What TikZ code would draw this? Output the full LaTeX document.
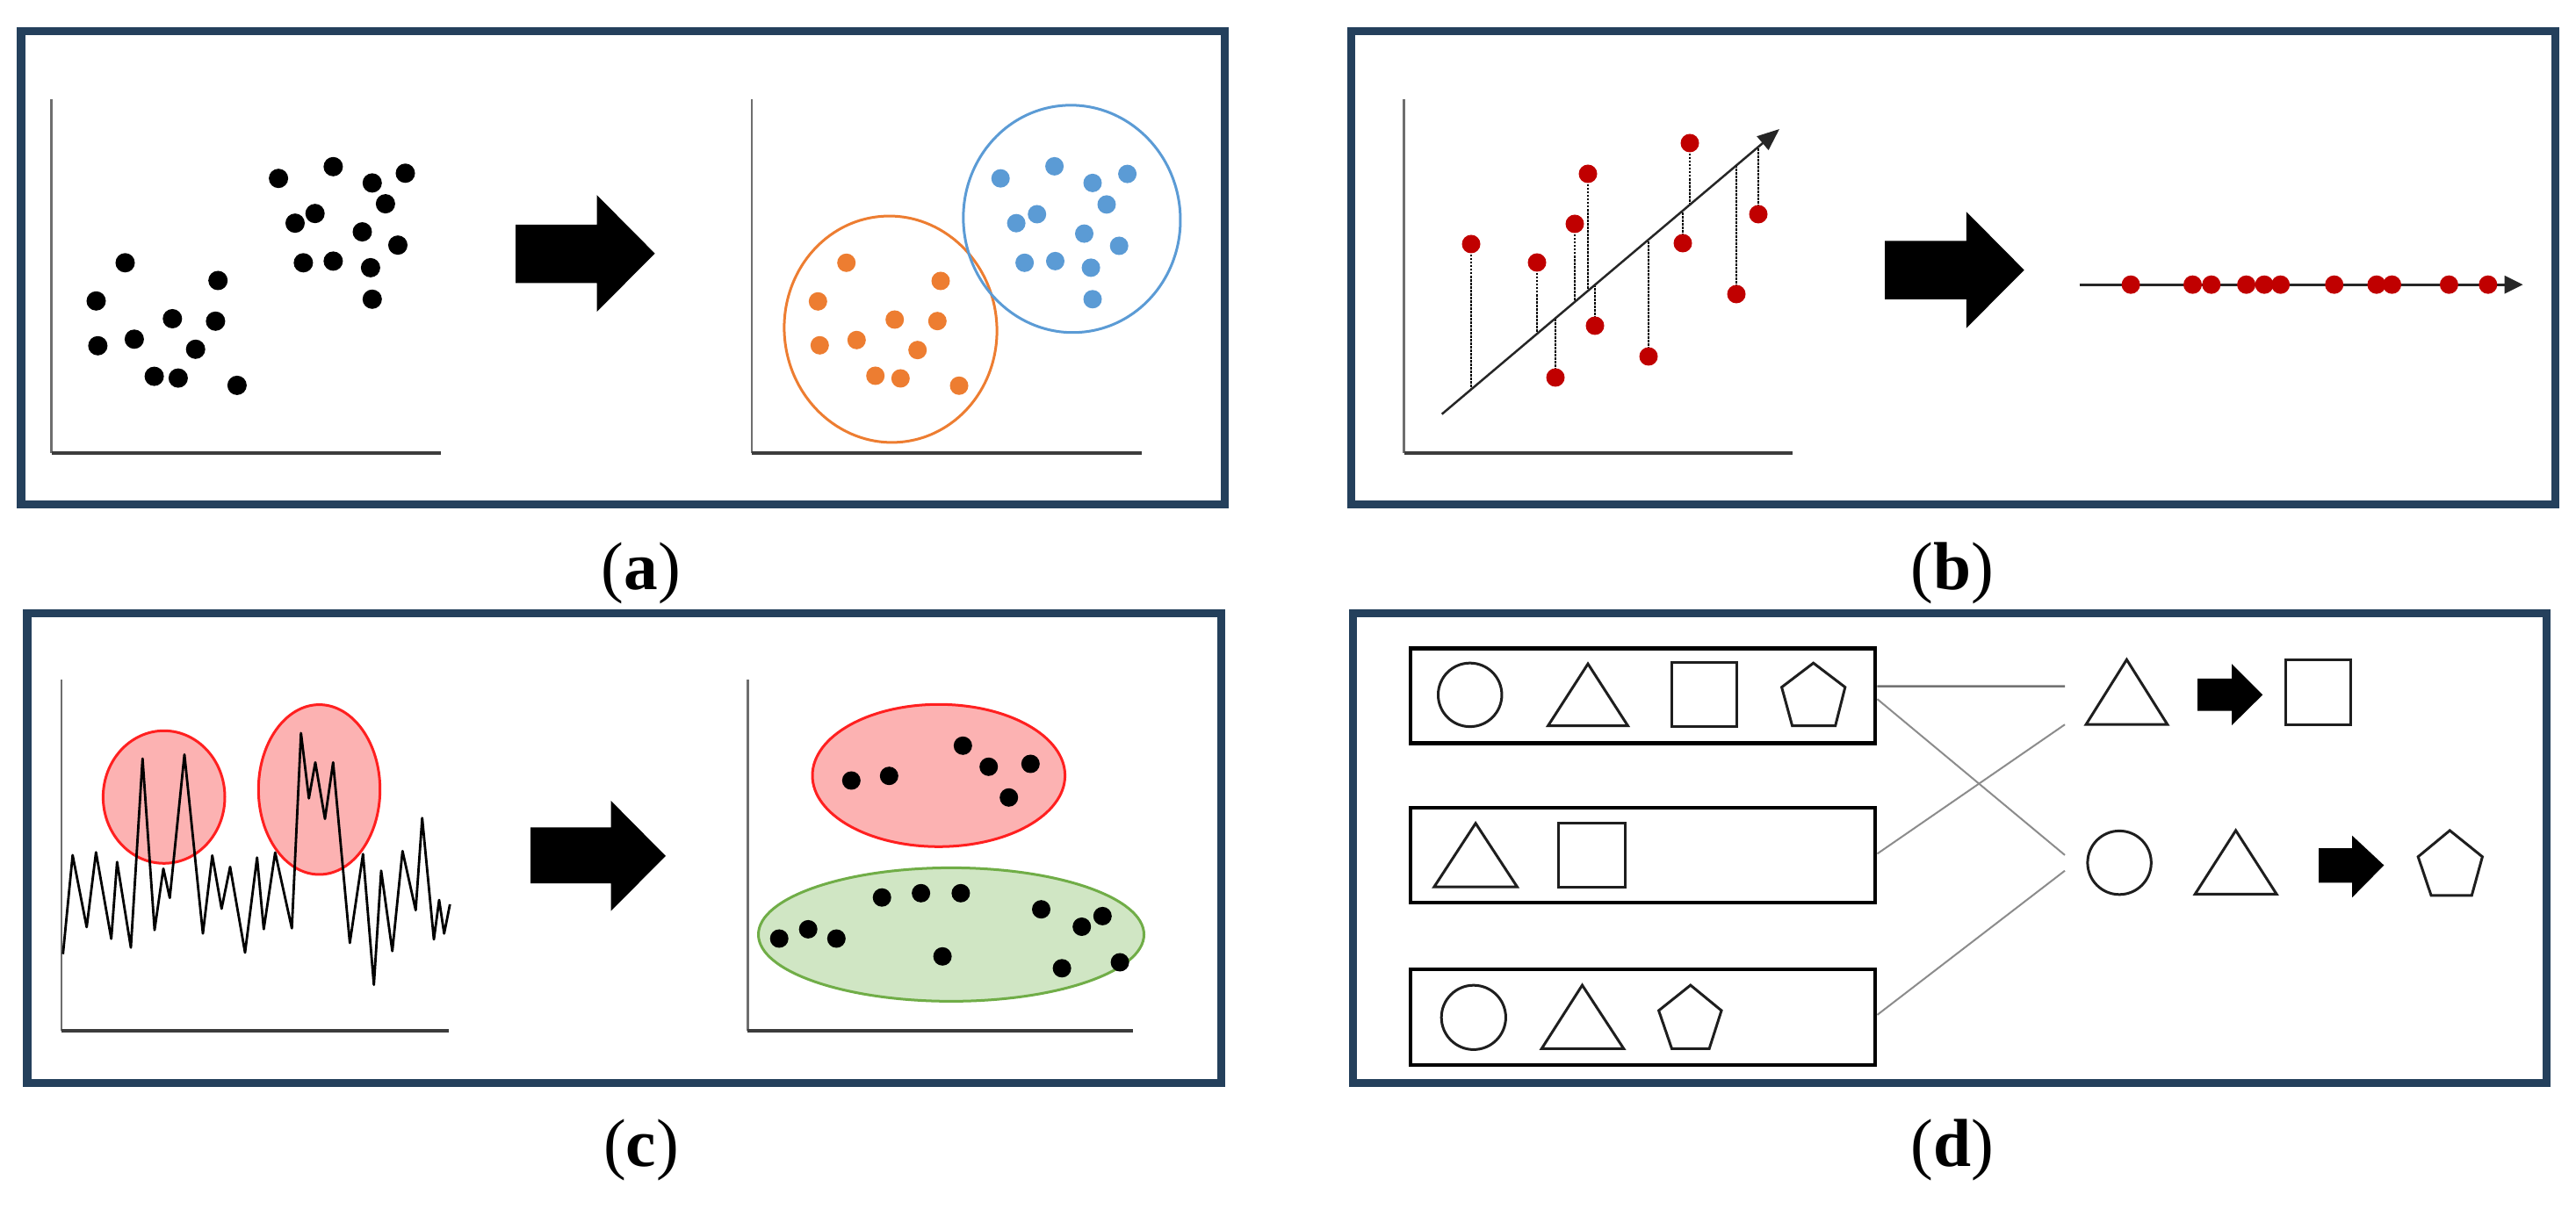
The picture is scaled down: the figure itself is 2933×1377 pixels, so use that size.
\documentclass[tikz,border=0pt]{standalone}
\usepackage{fontspec}
\setmainfont{Liberation Serif}
\usetikzlibrary{arrows.meta,calc}
\definecolor{frameblue}{RGB}{36,64,92}
\definecolor{dotred}{RGB}{192,0,0}
\definecolor{dotorange}{RGB}{237,125,49}
\definecolor{dotblue}{RGB}{91,155,213}
\definecolor{clred}{RGB}{255,32,32}
\definecolor{clredfill}{RGB}{252,178,178}
\definecolor{clgreen}{RGB}{112,173,71}
\definecolor{clgreenfill}{RGB}{208,230,196}
\definecolor{axgray}{RGB}{110,110,110}
\definecolor{axdark}{RGB}{60,60,60}
\definecolor{conngray}{RGB}{140,140,140}
\definecolor{shapeink}{RGB}{30,30,30}
\begin{document}
\begin{tikzpicture}[x=0.01cm,y=-0.01cm,
  panel/.style={draw=frameblue,line width=0.09cm},
  yaxis/.style={draw=axgray,line width=0.025cm},
  xaxis/.style={draw=axdark,line width=0.035cm},
  bigarrow/.style={fill=black},
  caption/.style={inner sep=0pt,font=\fontsize{22pt}{26pt}\selectfont},
  clusterline/.style={line width=0.03cm},
  dropline/.style={draw=black,line width=0.015cm,dash pattern=on 0.025cm off 0.015cm},
  regline/.style={draw=black!85,line width=0.025cm,-{Triangle[length=0.25cm,width=0.2cm]}},
  projline/.style={draw=black!85,line width=0.03cm,-{Triangle[length=0.21cm,width=0.2cm]}},
  signal/.style={draw=black,line width=0.028cm,line join=round},
  setbox/.style={draw=black,line width=0.045cm,rectangle,minimum width=5.29cm,inner sep=0pt},
  shapeline/.style={draw=shapeink,line width=0.03cm},
  conn/.style={draw=conngray,line width=0.02cm}
]
\useasboundingbox (0,0) rectangle (2933,1377);
\fill[white] (0,0) rectangle (2933,1377);

%================ (a) =================
\draw[panel] (24,36) rectangle (1394,575);
\draw[yaxis] (58.5,112.7) -- (58.5,516);
\draw[xaxis] (58.5,516) -- (502,516);
\foreach \p in {(317.1,203.2),(379.4,189.8),(423.8,208.4),(461.5,197.3),(438.9,232.1),
  (358.7,243.2),(336.0,254.2),(412.5,264.1),(453.0,279.2),(345.4,299.3),(379.4,297.4),
  (421.9,304.9),(423.8,340.8),(142.5,299.3),(248.2,319.5),(109.5,342.8),(196.3,363.0),
  (245.4,365.8),(111.4,393.8),(152.9,386.3),(222.7,397.8),(175.6,428.6),(202.9,430.6),
  (269.9,438.9)}
  \fill[black] \p circle[radius=0.11cm];
\fill[bigarrow] (587,255.8) -- (679.6,255.8) -- (679.6,222.2) -- (745.6,288.7)
  -- (679.6,355.1) -- (679.6,322.3) -- (587,322.3) -- cycle;
\draw[yaxis] (856,112.7) -- (856,516);
\draw[xaxis] (856,516) -- (1299.7,516);
\draw[dotorange,clusterline,rotate around={6:(1014,375)}] (1014,375) ellipse [x radius=121, y radius=129];
\draw[dotblue,clusterline,rotate around={6:(1220.4,249.3)}] (1220.4,249.3) ellipse [x radius=123.5, y radius=129.5];
\foreach \p in {(963.7,299.3),(1071,320),(931.3,343.3),(1018.7,364),(1067.3,365.7),
  (933.3,393.3),(975.3,387.3),(1044.7,398.7),(996.7,428),(1025.3,431),(1092,439.3)}
  \fill[dotorange] \p circle[radius=0.105cm];
\foreach \p in {(1139.2,203.2),(1200.6,189.4),(1244.0,208.4),(1283.6,198.1),(1260.0,232.9),
  (1180.7,244.0),(1157.1,254.2),(1234.5,266.1),(1274.2,280.0),(1166.6,299.3),(1201.5,297.4),
  (1242.1,304.9),(1244.0,340.8)}
  \fill[dotblue] \p circle[radius=0.105cm];
\node[caption] (la) at (730,652.5) {(\textbf{a})};

%================ (b) =================
\draw[panel] (1538,36) rectangle (2909,575);
\draw[yaxis] (1598.6,112.7) -- (1598.6,516);
\draw[xaxis] (1598.6,516) -- (2040.6,516);
\foreach \x/\yd/\yl in {1675/278/443.6,1750/299/380.2,1771/430/362.4,1793/255/343.8,
  1808/198/331.2,1816/371/324.4,1877/406/272.9,1916/277/239.9,1924/163/233.1,
  1977/335/188.4,2002/244/167.2}
  \draw[dropline] (\x,\yd) -- (\x,\yl);
\draw[regline] (1641.7,471.7) -- (2026,147);
\foreach \x/\yd in {1675/278,1750/299,1771/430,1793/255,1808/198,1816/371,1877/406,
  1916/277,1924/163,1977/335,2002/244}
  \fill[dotred] (\x,\yd) circle[radius=0.105cm];
\fill[bigarrow] (2146.2,274.4) -- (2238.9,274.4) -- (2238.9,241.2) -- (2304.7,307.6)
  -- (2238.9,373.7) -- (2238.9,340.8) -- (2146.2,340.8) -- cycle;
\draw[projline] (2367.7,324.2) -- (2872.7,324.2);
\foreach \x in {2426.1,2496.5,2517.8,2557.6,2578.1,2596.6,2657.7,2705.9,2723.5,2788.4,2832.8}
  \fill[dotred] (\x,324.2) circle[radius=0.105cm];
\node[caption] (lb) at (2223,652.5) {(\textbf{b})};

%================ (c) =================
\draw[panel] (31,698.4) rectangle (1390.5,1233.5);
\draw[yaxis] (69.8,774.5) -- (69.8,1174.2);
\draw[xaxis] (69.8,1174.2) -- (510.6,1174.2);
\draw[clred,fill=clredfill,clusterline] (186.7,907.8) ellipse [x radius=69.3, y radius=75.5];
\draw[clred,fill=clredfill,clusterline] (363.5,899.3) ellipse [x radius=69.2, y radius=96.7];
\draw[signal] (71.7,1086.7) -- (82.7,974) -- (98.7,1056) -- (109.3,970.7) -- (126.7,1069.3)
  -- (133.3,981.7) -- (149,1079.3) -- (162.3,864) -- (176,1059.3) -- (186,989.3)
  -- (193.3,1022.7) -- (210,859.3) -- (231,1063.3) -- (241.7,974.3) -- (252.3,1035)
  -- (262,987.3) -- (279,1085) -- (292.7,976.7) -- (300.3,1058.3) -- (313.3,971)
  -- (332.3,1057.3) -- (342.7,835) -- (351.7,909.3) -- (359,868.3) -- (370,932.7)
  -- (379.3,868.3) -- (398.3,1074) -- (413.3,972.7) -- (425.7,1121.7) -- (434,991.7)
  -- (446.7,1083.3) -- (458.3,969.3) -- (473.3,1036.7) -- (480.7,931.7) -- (494,1070)
  -- (500,1025) -- (505.7,1063.3) -- (512.3,1030);
\fill[bigarrow] (604,942.5) -- (695.6,942.5) -- (695.6,912) -- (757.9,974.9)
  -- (695.6,1037.6) -- (695.6,1006.2) -- (604,1006.2) -- cycle;
\draw[yaxis] (851.3,774.5) -- (851.3,1174.2);
\draw[xaxis] (851.3,1174.2) -- (1290.2,1174.2);
\draw[clred,fill=clredfill,clusterline] (1068.8,883.3) ellipse [x radius=143.8, y radius=81];
\draw[clgreen,fill=clgreenfill,clusterline] (1083,1064.4) ellipse [x radius=219.5, y radius=76];
\foreach \p in {(969.3,889),(1012.3,883.7),(1096.3,849.3),(1125.7,873.3),(1173.3,870),
  (1148.7,908.3),(887.2,1069),(920.2,1058.4),(952.3,1069),(1004.2,1022.2),(1048.6,1017.3),
  (1093.9,1017.3),(1073.1,1089.3),(1185.5,1035.7),(1255.3,1043.4),(1231.7,1055.5),
  (1209.1,1102.8),(1275.1,1096)}
  \fill[black] \p circle[radius=0.105cm];
\node[caption] (lc) at (730,1309.5) {(\textbf{c})};

%================ (d) =================
\draw[panel] (1540,698.4) rectangle (2899.7,1233.5);
\node[setbox,minimum height=1.08cm] (b1) at (1870.5,792.5) {};
\node[setbox,minimum height=1.08cm] (b2) at (1870.5,974) {};
\node[setbox,minimum height=1.09cm] (b3) at (1870.5,1158.5) {};
% box 1 shapes
\draw[shapeline] (1673.7,791.4) circle[radius=0.362cm];
\draw[shapeline] (1808,756.1) -- (1853.4,826.6) -- (1762.6,826.6) -- cycle;
\draw[shapeline] (1903.5,754.2) rectangle (1977.6,827.6);
\draw[shapeline] (2064.7,755.2) -- (2100.8,782.7) -- (2089.7,826.6) -- (2040.6,826.6) -- (2028.6,782.7) -- cycle;
% box 2 shapes
\draw[shapeline] (1680.1,937.7) -- (1727.4,1010.1) -- (1632.9,1010.1) -- cycle;
\draw[shapeline] (1774.7,937.2) rectangle (1850.6,1010.1);
% box 3 shapes
\draw[shapeline] (1677.8,1158.8) circle[radius=0.366cm];
\draw[shapeline] (1801.5,1122.1) -- (1848.8,1194.5) -- (1755.2,1194.5) -- cycle;
\draw[shapeline] (1924.8,1122.1) -- (1960,1151) -- (1946.1,1194.5) -- (1903.5,1194.5) -- (1888.6,1151) -- cycle;
% right side, row 1
\draw[shapeline] (2421.4,751.3) -- (2467.8,825.2) -- (2375.1,825.2) -- cycle;
\fill[bigarrow] (2502,773) -- (2541,773) -- (2541,756.1) -- (2576.2,791.4)
  -- (2541,826.1) -- (2541,809.7) -- (2502,809.7) -- cycle;
\draw[shapeline] (2602.1,751.8) rectangle (2676.2,825.2);
% right side, row 2
\draw[shapeline] (2413.1,982.6) circle[radius=0.362cm];
\draw[shapeline] (2545.6,945.9) -- (2592,1018.3) -- (2499.3,1018.3) -- cycle;
\fill[bigarrow] (2640.1,966.2) -- (2678.1,966.2) -- (2678.1,951.7) -- (2714.3,985.5)
  -- (2678.1,1022.2) -- (2678.1,1005.3) -- (2640.1,1005.3) -- cycle;
\draw[shapeline] (2789.3,945.9) -- (2826.4,975.8) -- (2814.3,1019.8) -- (2768,1019.8) -- (2753.2,975.8) -- cycle;
% connectors
\coordinate (e1) at (2351,781.7);
\coordinate (e2) at (2351,825.2);
\coordinate (e3) at (2351,973.9);
\coordinate (e4) at (2351,991.7);
\draw[conn,draw=black!55,line width=0.025cm] ([yshift=0.108cm]b1.east) -- (e1);
\draw[conn] ([yshift=-0.037cm]b1.east) -- (e3);
\draw[conn] ([yshift=0.016cm]b2.east) -- (e2);
\draw[conn] ([yshift=0.026cm]b3.east) -- (e4);
\node[caption] (ld) at (2223,1309.5) {(\textbf{d})};
\end{tikzpicture}
\end{document}
